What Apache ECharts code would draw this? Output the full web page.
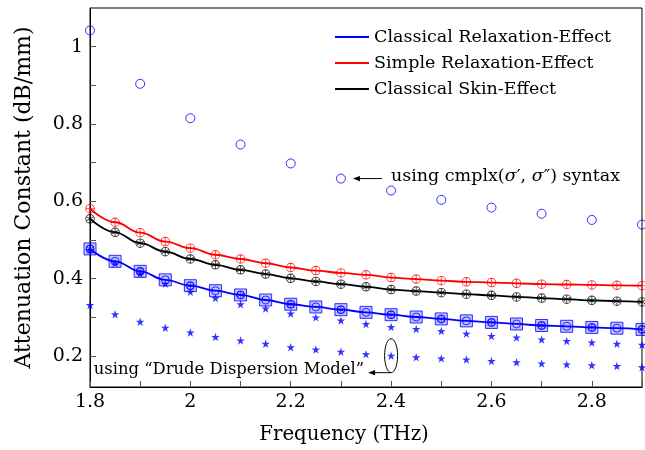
<!DOCTYPE html>
<html><head><meta charset="utf-8">
<script src="https://cdn.jsdelivr.net/npm/echarts@6/dist/echarts.min.js"></script>
<style>html,body{margin:0;padding:0;background:#fff}#c{width:645px;height:450px}</style>
</head><body><div id="c"></div>
<script>
// ---------- data ----------
const freq = [1.8,1.85,1.9,1.95,2.0,2.05,2.1,2.15,2.2,2.25,2.3,2.35,2.4,2.45,2.5,2.55,2.6,2.65,2.7,2.75,2.8,2.85,2.9];
const freqCoarse = [1.8,1.9,2.0,2.1,2.2,2.3,2.4,2.5,2.6,2.7,2.8,2.9];
const classicalRelaxation = [0.477,0.445,0.419,0.397,0.382,0.369,0.358,0.345,0.334,0.327,0.320,0.313,0.307,0.301,0.296,0.291,0.287,0.283,0.279,0.277,0.274,0.272,0.269];
const simpleRelaxation = [0.581,0.546,0.519,0.496,0.479,0.462,0.451,0.440,0.429,0.421,0.415,0.410,0.403,0.399,0.395,0.392,0.390,0.388,0.386,0.385,0.384,0.383,0.382];
const classicalSkin = [0.555,0.520,0.492,0.470,0.451,0.436,0.423,0.412,0.401,0.393,0.386,0.379,0.372,0.368,0.364,0.360,0.357,0.353,0.350,0.347,0.344,0.342,0.340];
const drudeStarsUpper = [0.474,0.440,0.413,0.387,0.366,0.350,0.334,0.323,0.310,0.300,0.292,0.283,0.275,0.270,0.265,0.258,0.252,0.248,0.243,0.239,0.235,0.232,0.229];
const drudeStarsLower = [0.332,0.308,0.289,0.273,0.261,0.249,0.240,0.232,0.223,0.217,0.211,0.205,0.201,0.197,0.194,0.191,0.187,0.184,0.181,0.178,0.176,0.174,0.171];
const cmplxCircles = [1.042,0.904,0.815,0.747,0.698,0.659,0.628,0.604,0.584,0.568,0.552,0.540];
const yTickValues = [0.2,0.3,0.4,0.5,0.6,0.7,0.8,0.9,1.0];
const yLabelValues = [0.2,0.4,0.6,0.8,1.0];
const seriesNames = ['Classical Relaxation-Effect','Simple Relaxation-Effect','Classical Skin-Effect'];
const noteCmplx = 'using cmplx({i|σ}′, {i|σ}″) syntax';
const noteDrude = 'using “Drude Dispersion Model”';

// ---------- styling helpers ----------
const FONT = '"DejaVu Serif", serif';
const FS = 17.5;      // legend / notes
const FS_TICK = 19;   // tick labels
const BLUE = '#0000ff', RED = '#ff0000', BLACK = '#000000';
const pairs = (xs, ys) => xs.map((x, i) => [x, ys[i]]);
const ring = 'M10,0A10,10,0,1,1,10,20A10,10,0,1,1,10,0Z M10,1.9A8.1,8.1,0,1,0,10,18.1A8.1,8.1,0,1,0,10,1.9Z';
function bars(angles) {
  let s = '';
  const L = 8.1, w = 0.9;
  angles.forEach(a => {
    const r = a * Math.PI / 180, dx = Math.cos(r), dy = Math.sin(r), nx = -dy, ny = dx;
    const p = [[L*dx + w*nx, L*dy + w*ny], [-L*dx + w*nx, -L*dy + w*ny], [-L*dx - w*nx, -L*dy - w*ny], [L*dx - w*nx, L*dy - w*ny]];
    s += ' M' + p.map(q => (10 + q[0]).toFixed(3) + ',' + (10 + q[1]).toFixed(3)).join(' L') + ' Z';
  });
  return s;
}
const oplus = 'path://' + ring + bars([0, 90]);
const oast = 'path://' + ring + bars([90, 30, 150]);
function starPath() {
  const pts = [];
  for (let k = 0; k < 10; k++) {
    const r = k % 2 === 0 ? 10 : 3.8;
    const a = -Math.PI / 2 + k * Math.PI / 5;
    pts.push((10 + r * Math.cos(a)).toFixed(3) + ',' + (10 + r * Math.sin(a)).toFixed(3));
  }
  return 'path://M' + pts.join(' L') + ' Z';
}
const star = starPath();

const chart = echarts.init(document.getElementById('c'), null, {renderer: 'canvas'});
const lineSeries = (name, ys, color) => ({
  name, type: 'line', data: pairs(freq, ys), showSymbol: false, smooth: 0.4, smoothMonotone: 'x',
  lineStyle: {color, width: 1.8}, itemStyle: {color}, z: 2, silent: true
});
const marks = (xs, ys, symbol, size, color, fill, z) => ({
  type: 'scatter', data: pairs(xs, ys), symbol, symbolSize: size, z: z || 3, silent: true,
  itemStyle: {color: fill === undefined ? color : fill, borderColor: color, borderWidth: fill === undefined ? 0 : 1}
});
const even = (arr) => arr.filter((_, i) => i % 2 === 0);

chart.setOption({
  animation: false,
  backgroundColor: '#fff',
  textStyle: {fontFamily: FONT},
  grid: {left: 90, top: 8, width: 556, height: 379, show: true, borderColor: '#000', borderWidth: 1, backgroundColor: 'transparent'},
  xAxis: {
    type: 'value', min: 1.8, max: 2.9, interval: 0.1,
    name: 'Frequency (THz)', nameLocation: 'middle', nameGap: 38,
    nameTextStyle: {fontFamily: FONT, fontSize: 19.8, color: '#000', padding: [0, 44, 0, 0]},
    axisLine: {show: true, lineStyle: {color: '#000', width: 1}},
    axisTick: {show: true, inside: true, length: 6, lineStyle: {color: '#555', width: 1}},
    axisLabel: {margin: 6, fontFamily: FONT, fontSize: FS_TICK, color: '#000',
      formatter: v => (Math.round(v * 10) % 2 === 0) ? String(Math.round(v * 10) / 10) : ''},
    splitLine: {show: false}
  },
  yAxis: {
    type: 'value', min: 0.12, max: 1.1,
    name: 'Attenuation Constant (dB/mm)', nameLocation: 'middle', nameGap: 55,
    nameTextStyle: {fontFamily: FONT, fontSize: 22, color: '#000'},
    axisLine: {show: true, lineStyle: {color: '#000', width: 1}},
    axisTick: {show: true, inside: true, length: 6, customValues: yTickValues, lineStyle: {color: '#555', width: 1}},
    axisLabel: {margin: 7, fontFamily: FONT, fontSize: FS_TICK, color: '#000', customValues: yLabelValues,
      formatter: v => String(Math.round(v * 10) / 10)},
    splitLine: {show: false}
  },
  legend: seriesNames.map((n, i) => ({
    data: [n], left: 335, top: 27 + i * 26, padding: 0, selectedMode: false,
    icon: 'rect', itemWidth: 34, itemHeight: 1.8,
    textStyle: {fontFamily: FONT, fontSize: FS, color: '#000', lineHeight: 20}
  })),
  series: [
    lineSeries(seriesNames[0], classicalRelaxation, BLUE),
    lineSeries(seriesNames[1], simpleRelaxation, RED),
    lineSeries(seriesNames[2], classicalSkin, BLACK),
    marks(freq, classicalRelaxation, 'rect', 12, BLUE, 'rgba(0,0,255,0.3)', 3),
    marks(freq, classicalRelaxation, 'circle', 8, BLUE, 'rgba(255,255,255,0)', 4),
    marks(even(freq), even(classicalRelaxation), oast, 8, BLUE, undefined, 5),
    marks(freq, drudeStarsUpper, star, 8.5, BLUE, undefined, 5),
    marks(freq, drudeStarsLower, star, 8.5, BLUE, undefined, 5),
    marks(freq, simpleRelaxation, oplus, 9.5, RED, undefined, 4),
    marks(freq, classicalSkin, oast, 9.5, BLACK, undefined, 4),
    marks(freqCoarse, cmplxCircles, 'circle', 9, BLUE, 'rgba(255,255,255,0)', 4)
  ]
});

// ---------- annotations anchored to data ----------
const P = (x, y) => chart.convertToPixel({gridIndex: 0}, [x, y]);
const c = P(freqCoarse[5], cmplxCircles[5]);
const e = P(freq[12], drudeStarsLower[12]);
const ry = 17, rx = 6.5;
const arrowHead = (tx, ty) => ({type: 'polygon', shape: {points: [[tx, ty], [tx + 7, ty - 2.6], [tx + 7, ty + 2.6]]}, style: {fill: '#000'}, z: 10});
chart.setOption({
  graphic: [
    {type: 'line', shape: {x1: c[0] + 41, y1: c[1], x2: c[0] + 17, y2: c[1]}, style: {stroke: '#000', lineWidth: 1}, z: 10},
    arrowHead(c[0] + 12, c[1]),
    {type: 'text', x: c[0] + 50, y: c[1] - 2, z: 10, style: {text: noteCmplx, font: FS + 'px ' + FONT, fill: '#000', align: 'left', verticalAlign: 'middle',
      rich: {i: {fontStyle: 'italic', fontSize: FS, fontFamily: FONT, fill: '#000'}}}},
    {type: 'ellipse', shape: {cx: e[0], cy: e[1], rx: rx, ry: ry}, style: {stroke: '#000', lineWidth: 1, fill: 'none'}, z: 10},
    {type: 'line', shape: {x1: e[0], y1: e[1] + ry, x2: e[0] - 17, y2: e[1] + ry}, style: {stroke: '#000', lineWidth: 1}, z: 10},
    arrowHead(e[0] - 23, e[1] + ry),
    {type: 'text', x: e[0] - 27, y: e[1] + ry - 3, z: 10, style: {text: noteDrude, font: '16.4px ' + FONT, fill: '#000', align: 'right', verticalAlign: 'middle'}}
  ]
});
</script>
</body></html>
